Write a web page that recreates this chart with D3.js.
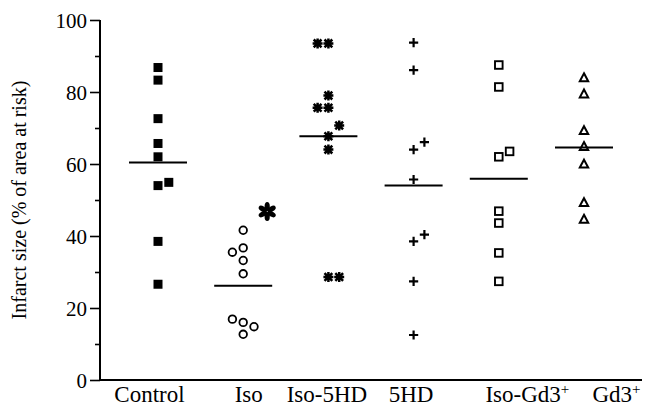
<!DOCTYPE html>
<html>
<head>
<meta charset="utf-8">
<script src="https://cdn.jsdelivr.net/npm/d3@7"></script>
<style>
  html, body { margin: 0; padding: 0; background: #fff; }
  svg { display: block; }
  text { font-family: "Liberation Serif", "Times New Roman", serif; fill: #000; }
</style>
</head>
<body>
<svg id="chart" width="647" height="409"></svg>
<script>
// ---------- data ----------
const categories = ["Control", "Iso", "Iso-5HD", "5HD", "Iso-Gd3+", "Gd3+"];

const controlValues = [86.8, 83.3, 72.6, 65.7, 62.0, 54.0, 54.9, 38.5, 26.6];
const controlSlots  = [0, 0, 0, 0, 0, 0, 1, 0, 0];

const isoValues = [41.6, 36.7, 35.5, 33.2, 29.5, 16.9, 16.0, 14.8, 12.7];
const isoSlots  = [0, 0, -1, 0, 0, -1, 0, 1, 0];

const iso5hdValues = [93.5, 93.5, 79.0, 75.6, 75.6, 70.7, 67.7, 64.0, 28.6, 28.6];
const iso5hdSlots  = [-1, 0, 0, -1, 0, 1, 0, 0, 0, 1];

const hd5Values = [93.7, 86.1, 66.1, 64.0, 55.7, 40.4, 38.5, 27.4, 12.5];
const hd5Slots  = [0, 0, 1, 0, 0, 1, 0, 0, 0];

const isoGdValues = [87.5, 81.4, 63.5, 62.0, 46.9, 43.6, 35.3, 27.4];
const isoGdSlots  = [0, 0, 1, 0, 0, 0, 0, 0];

const gdValues = [84.0, 79.5, 69.3, 64.9, 60.0, 49.3, 44.7];
const gdSlots  = [0, 0, 0, 0, 0, 0, 0];

const meanValues = [60.4, 26.2, 67.7, 54.0, 55.9, 64.6];

const yTicks = [0, 20, 40, 60, 80, 100];
const yMinorTicks = [10, 30, 50, 70, 90];
const yLabel = "Infarct size (% of area at risk)";

// significance mark (Iso vs Control)
const sigCategory = "Iso";
const sigValue = 46.8;

// ---------- layout ----------
const svg = d3.select("#chart");
const x0 = 100, xEnd = 642, yTop = 20, yBottom = 380;

const y = d3.scaleLinear().domain([0, 100]).range([yBottom, yTop]);
const x = d3.scalePoint().domain(categories).range([158, 584]);
const slotStep = 10.8;
const labelShift = [-9, 5, -2, -3, 28, 32];

// axes
const yAxis = d3.axisLeft(y).tickValues(yTicks).tickSize(10).tickPadding(3).tickFormat(d3.format("d"));
const gy = svg.append("g").attr("transform", `translate(${x0},0)`).call(yAxis);
gy.select(".domain").attr("stroke", "#000").attr("stroke-width", 2).attr("d", `M0,${yTop}V${yBottom}`);
gy.selectAll(".tick line").attr("stroke", "#000").attr("stroke-width", 1.6);
gy.selectAll(".tick text").style("font-size", "21px").attr("dy", "0.34em");

const yMinor = d3.axisLeft(y).tickValues(yMinorTicks).tickSize(5).tickFormat("");
const gym = svg.append("g").attr("transform", `translate(${x0},0)`).call(yMinor);
gym.select(".domain").remove();
gym.selectAll(".tick line").attr("stroke", "#000").attr("stroke-width", 1.6);

const xAxis = d3.axisBottom(x).tickSize(0).tickPadding(0);
const gx = svg.append("g").attr("transform", `translate(0,${yBottom})`).call(xAxis);
gx.select(".domain").attr("stroke", "#000").attr("stroke-width", 2).attr("d", `M${x0},0H${xEnd}`);
gx.selectAll(".tick text")
  .style("font-size", "23px")
  .attr("dy", null)
  .attr("y", 22)
  .attr("dx", (d, i) => labelShift[i])
  .each(function(d) {
    const t = d3.select(this);
    const m = d.match(/^(.*)\+$/);
    if (m) {
      t.text(m[1]);
      t.append("tspan").text("+").style("font-size", "15px").attr("dy", "-0.55em");
    }
  });

// y title
svg.append("text")
  .attr("transform", `translate(26,${(yTop + yBottom) / 2}) rotate(-90)`)
  .attr("text-anchor", "middle")
  .style("font-size", "20px")
  .text(yLabel);

// mean lines
svg.append("g").selectAll("line")
  .data(meanValues)
  .join("line")
  .attr("x1", (d, i) => x(categories[i]) - 29)
  .attr("x2", (d, i) => x(categories[i]) + 29)
  .attr("y1", d => y(d))
  .attr("y2", d => y(d))
  .attr("stroke", "#000")
  .attr("stroke-width", 2);

// helpers
function pts(cat, vals, slots) {
  return vals.map((v, i) => ({ cx: x(cat) + slots[i] * slotStep, cy: y(v) }));
}
const g = svg.append("g");

// Control: filled squares
g.selectAll(".ctl").data(pts("Control", controlValues, controlSlots)).join("rect")
  .attr("x", d => d.cx - 4.5).attr("y", d => d.cy - 4.5)
  .attr("width", 9).attr("height", 9).attr("fill", "#000");

// Iso: open circles
g.selectAll(".iso").data(pts("Iso", isoValues, isoSlots)).join("circle")
  .attr("cx", d => d.cx).attr("cy", d => d.cy).attr("r", 3.8)
  .attr("fill", "none").attr("stroke", "#000").attr("stroke-width", 1.8);

// Iso-5HD: 8-armed asterisks
const starPath = (() => {
  const r = 5, q = r * 0.78;
  return `M${-r},0H${r}M0,${-r}V${r}M${-q},${-q}L${q},${q}M${-q},${q}L${q},${-q}`;
})();
g.selectAll(".i5").data(pts("Iso-5HD", iso5hdValues, iso5hdSlots)).join("path")
  .attr("transform", d => `translate(${d.cx},${d.cy})`)
  .attr("d", starPath).attr("fill", "none").attr("stroke", "#000").attr("stroke-width", 2.5);

// 5HD: plus
const plusPath = "M-4.6,0H4.6M0,-4.6V4.6";
g.selectAll(".h5").data(pts("5HD", hd5Values, hd5Slots)).join("path")
  .attr("transform", d => `translate(${d.cx},${d.cy})`)
  .attr("d", plusPath).attr("fill", "none").attr("stroke", "#000").attr("stroke-width", 2.2);

// Iso-Gd3+: open squares
g.selectAll(".ig").data(pts("Iso-Gd3+", isoGdValues, isoGdSlots)).join("rect")
  .attr("x", d => d.cx - 3.8).attr("y", d => d.cy - 3.8)
  .attr("width", 7.6).attr("height", 7.6)
  .attr("fill", "none").attr("stroke", "#000").attr("stroke-width", 1.9);

// Gd3+: open triangles
const triPath = "M0,-4.3L4.2,3.6L-4.2,3.6Z";
g.selectAll(".gd").data(pts("Gd3+", gdValues, gdSlots)).join("path")
  .attr("transform", d => `translate(${d.cx},${d.cy})`)
  .attr("d", triPath).attr("fill", "none").attr("stroke", "#000")
  .attr("stroke-width", 2).attr("stroke-linejoin", "miter");

// significance asterisk (six petals)
const sig = svg.append("g")
  .attr("transform", `translate(${x(sigCategory) + 24},${y(sigValue)})`);
sig.selectAll("ellipse").data(d3.range(6)).join("ellipse")
  .attr("cx", 0).attr("cy", -5).attr("rx", 2.6).attr("ry", 4.6)
  .attr("transform", d => `rotate(${d * 60})`)
  .attr("fill", "#000");
</script>
</body>
</html>
